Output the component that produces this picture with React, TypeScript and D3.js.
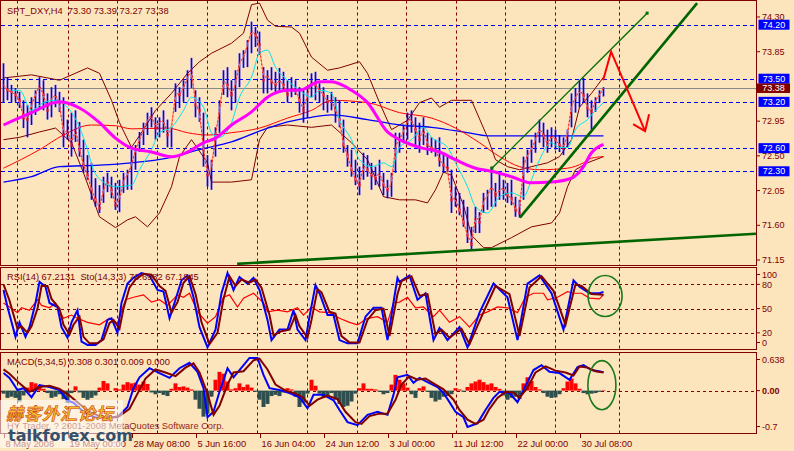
import React from "react";
import * as d3 from "d3";

type P = [number, number];

// ---------- price bars (H4), bar index 0..150 ----------
const highs = [
  73.70, 73.52, 73.42, 73.38, 73.33, 73.22, 73.16, 73.26, 73.35, 73.52,
  73.48, 73.31, 73.39, 73.42, 73.33, 73.26, 72.97, 73.06, 73.09, 72.94,
  72.71, 72.51, 72.41, 72.21, 72.12, 72.23, 72.28, 72.23, 72.15, 72.19,
  72.28, 72.32, 72.58, 72.64, 72.81, 72.93, 73.06, 73.13, 73.00, 73.00,
  73.09, 72.97, 72.87, 73.44, 73.39, 73.48, 73.61, 73.77, 73.35, 73.26,
  73.06, 72.51, 72.45, 72.87, 73.22, 73.61, 73.65, 73.48, 73.61, 73.83,
  73.87, 74.00, 74.24, 74.17, 74.11, 73.65, 73.61, 73.65, 73.59, 73.64,
  73.59, 73.48, 73.52, 73.48, 73.39, 73.35, 73.39, 73.57, 73.59, 73.44,
  73.39, 73.29, 73.33, 73.26, 73.22, 72.97, 72.64, 72.58, 72.45, 72.36,
  72.54, 72.51, 72.41, 72.36, 72.45, 72.28, 72.19, 72.28, 72.80, 72.80,
  72.90, 73.06, 73.09, 73.00, 72.93, 73.00, 72.80, 72.74, 72.71, 72.74,
  72.54, 72.51, 72.32, 72.10, 72.02, 71.93, 71.84, 71.58, 71.84, 71.77,
  72.02, 72.06, 72.36, 72.15, 72.28, 72.19, 72.15, 72.19, 71.97, 71.93,
  72.49, 72.58, 72.71, 72.80, 72.97, 72.93, 72.84, 72.87, 72.84, 72.77,
  72.74, 72.84, 73.31, 73.38, 73.48, 73.51, 73.31, 73.22, 73.26, 73.35, 73.39,
];
const lows = [
  73.19, 73.22, 73.19, 73.20, 73.12, 72.86, 72.74, 72.90, 73.03, 73.12,
  73.09, 72.97, 73.00, 73.13, 73.07, 72.61, 72.71, 72.49, 72.68, 72.49,
  72.28, 72.19, 71.93, 71.84, 71.76, 71.89, 72.03, 71.95, 71.80, 71.77,
  72.02, 72.06, 72.06, 72.32, 72.55, 72.64, 72.77, 72.87, 72.71, 72.74,
  72.80, 72.61, 72.61, 73.07, 73.12, 73.20, 73.26, 73.38, 73.00, 72.94,
  72.36, 72.10, 72.06, 72.49, 72.80, 73.29, 73.26, 73.09, 73.19, 73.39,
  73.64, 73.65, 73.83, 73.91, 73.81, 73.31, 73.31, 73.35, 73.31, 73.33,
  73.35, 73.19, 73.26, 73.29, 73.06, 72.93, 72.99, 73.26, 73.22, 73.19,
  73.09, 73.06, 73.09, 72.93, 72.87, 72.54, 72.36, 72.23, 72.12, 71.99,
  72.19, 72.23, 72.06, 72.12, 72.10, 71.99, 71.95, 71.97, 72.28, 72.54,
  72.67, 72.71, 72.80, 72.61, 72.54, 72.64, 72.51, 72.54, 72.49, 72.36,
  72.28, 72.29, 71.76, 71.84, 71.73, 71.58, 71.37, 71.28, 71.50, 71.50,
  71.76, 71.80, 71.84, 71.84, 71.93, 71.93, 71.89, 71.86, 71.71, 71.70,
  71.93, 72.28, 72.41, 72.54, 72.67, 72.61, 72.54, 72.61, 72.58, 72.55,
  72.51, 72.61, 72.87, 73.06, 73.13, 73.19, 73.00, 72.84, 73.07, 73.19, 73.27,
];
const closes = [
  73.42, 73.35, 73.33, 73.29, 73.22, 72.99, 72.97, 73.16, 73.29, 73.42,
  73.29, 73.09, 73.25, 73.29, 73.19, 72.77, 72.84, 72.64, 72.86, 72.58,
  72.38, 72.25, 72.06, 71.93, 71.82, 72.06, 72.19, 72.06, 71.86, 71.93,
  72.19, 72.25, 72.38, 72.58, 72.71, 72.84, 72.97, 73.03, 72.86, 72.94,
  72.97, 72.77, 72.84, 73.33, 73.29, 73.38, 73.51, 73.64, 73.16, 73.09,
  72.58, 72.25, 72.32, 72.77, 73.09, 73.48, 73.42, 73.29, 73.42, 73.72,
  73.77, 73.94, 74.13, 74.07, 73.94, 73.48, 73.55, 73.46, 73.42, 73.48,
  73.42, 73.29, 73.38, 73.35, 73.22, 73.09, 73.29, 73.48, 73.42, 73.35,
  73.29, 73.20, 73.22, 73.09, 72.97, 72.64, 72.51, 72.32, 72.19, 72.12,
  72.38, 72.32, 72.25, 72.21, 72.29, 72.12, 72.06, 72.12, 72.64, 72.71,
  72.81, 72.97, 72.97, 72.84, 72.71, 72.86, 72.64, 72.60, 72.58, 72.45,
  72.38, 72.34, 71.93, 71.95, 71.80, 71.64, 71.47, 71.35, 71.73, 71.64,
  71.93, 71.97, 72.12, 71.99, 72.06, 72.08, 71.99, 71.95, 71.80, 71.76,
  72.38, 72.51, 72.58, 72.71, 72.86, 72.77, 72.64, 72.77, 72.71, 72.64,
  72.60, 72.77, 73.16, 73.25, 73.35, 73.29, 73.12, 73.07, 73.22, 73.29, 73.38,
];

// ---------- main-panel indicator lines [barIndex, price] ----------
const magentaMA: P[] = [[0,72.90],[7,73.06],[14,73.20],[19,73.12],[24,72.93],[28,72.73],[32,72.60],[37,72.55],[42,72.49],[46,72.55],[50,72.67],[53,72.73],[57,72.90],[62,73.07],[66,73.26],[71,73.35],[74,73.35],[79,73.46],[82,73.46],[87,73.35],[91,73.19],[96,72.81],[99,72.71],[104,72.61],[109,72.55],[113,72.45],[118,72.34],[122,72.30],[127,72.23],[132,72.15],[137,72.16],[142,72.21],[145,72.36],[147,72.54],[150,72.65]];
const blueMA: P[] = [[0,72.16],[7,72.23],[14,72.36],[24,72.38],[32,72.41],[41,72.47],[49,72.58],[57,72.68],[65,72.84],[71,72.94],[77,73.00],[82,73.03],[91,72.97],[99,72.90],[107,72.87],[116,72.80],[121,72.76],[132,72.76],[150,72.76]];
const redMA: P[] = [[0,72.34],[9,72.58],[15,72.77],[22,72.90],[28,72.89],[32,72.85],[41,72.86],[46,72.80],[51,72.77],[57,72.80],[64,72.86],[71,72.99],[77,73.09],[82,73.22],[91,73.19],[99,73.06],[107,72.99],[113,72.86],[119,72.67],[124,72.49],[129,72.36],[134,72.32],[141,72.34],[145,72.41],[147,72.47],[150,72.49]];
const bbUpper: P[] = [[0,73.51],[7,73.55],[14,73.48],[21,73.64],[24,73.57],[27,73.22],[29,72.93],[32,72.61],[35,72.84],[38,73.09],[42,73.31],[46,73.57],[49,73.72],[52,73.83],[57,73.96],[60,74.09],[62,74.46],[64,74.48],[66,74.26],[68,74.18],[72,74.17],[74,74.09],[77,73.78],[81,73.61],[84,73.64],[89,73.72],[91,73.57],[94,73.19],[97,72.84],[101,72.96],[104,73.19],[107,73.25],[109,73.13],[112,73.22],[117,73.22],[121,72.74],[123,72.45],[126,72.36],[129,72.32],[132,72.36],[136,72.41],[139,72.49],[142,72.71],[144,73.13],[147,73.31],[150,73.52]];
const bbLower: P[] = [[0,72.71],[4,72.74],[9,72.81],[13,72.86],[17,72.67],[20,72.28],[24,71.71],[28,71.57],[31,71.67],[33,71.71],[36,71.58],[39,71.76],[42,72.10],[44,72.49],[47,72.71],[51,72.41],[52,72.16],[57,72.16],[62,72.19],[64,72.71],[66,72.87],[71,72.90],[77,72.87],[82,72.90],[87,72.67],[91,72.45],[95,71.97],[99,71.93],[103,71.93],[106,71.89],[108,72.06],[110,72.29],[112,72.25],[115,71.86],[117,71.47],[120,71.31],[122,71.31],[127,71.44],[132,71.58],[137,71.63],[139,71.76],[141,72.10],[143,72.32],[146,72.41],[150,72.49]];
const cyanMA: P[] = [[2,73.35],[4,73.35],[7,73.09],[10,73.19],[13,73.22],[16,73.13],[19,72.87],[21,72.58],[22.5,72.32],[25,72.16],[28,72.10],[32,72.12],[34,72.32],[37,72.58],[39,72.80],[42,72.87],[45,73.09],[47,73.26],[50,73.13],[52,72.80],[54,72.74],[57,72.93],[59,73.26],[62,73.52],[64,73.83],[66,73.87],[68,73.65],[71,73.48],[74,73.35],[77,73.26],[79,73.35],[82,73.31],[84,72.97],[87,72.71],[89,72.45],[92,72.36],[95,72.41],[97,72.36],[99,72.61],[102,72.71],[105,72.87],[107,72.74],[111,72.61],[113,72.41],[116,72.10],[118,71.84],[121,71.76],[124,71.97],[127,72.02],[130,71.97],[132,72.19],[134,72.45],[137,72.67],[139,72.61],[141,72.61],[143,72.84],[146,72.97],[148,73.09],[150,73.19]];

// ---------- drawn objects ----------
const trendBottom: P[] = [[58.4, 71.10], [188.1, 71.49]];
const channelLower: P[] = [[129.1, 71.70], [173.4, 74.48]];
const channelUpper: P[] = [[122.1, 72.34], [160.9, 74.35]];
const arrowPath: P[] = [[149.9, 73.48], [151.9, 73.85], [160.4, 72.82]];
const arrowHead: P[] = [[157.4, 72.91], [160.4, 72.82], [161.4, 73.04]];

const priceTicks = [74.30, 73.85, 73.40, 72.95, 72.50, 72.05, 71.60, 71.15];
const levelLines = [74.20, 73.50, 73.20, 72.60, 72.30];
const lastPrice = 73.38;

// ---------- RSI / Stochastic ----------
const rsi: P[] = [[0,57],[1.5,52],[3.5,45],[4.5,51],[6.5,48],[8.5,61],[9.5,54],[11.5,51],[13,57],[15,38],[17,42],[18.5,38],[21,33],[24,30],[26.5,38],[28.5,32],[30.5,61],[32.5,64],[35,67],[37,58],[39,61],[41,54],[43.5,67],[45,64],[46.5,69],[48.5,46],[51,32],[53,40],[55,64],[56.5,67],[58.5,52],[60,63],[62.5,69],[65,57],[66,46],[68.5,48],[71,46],[73.5,51],[75,42],[77,52],[79,46],[81.5,45],[84,38],[86.5,33],[88.5,30],[91,38],[93.5,40],[96,33],[97.5,57],[99,58],[101,64],[103,51],[105,52],[107.5,40],[109,48],[111.5,33],[114,40],[116.5,27],[119,42],[121,46],[123.5,52],[126,51],[128.5,45],[130.5,64],[132.5,69],[135,69],[136,61],[138.5,64],[141,71],[142.5,69],[144.5,69],[146.5,63],[149,62],[150,67.2]];
const stochMain: P[] = [[0,73],[1,52],[3,15],[4,33],[5.5,15],[6.5,27],[8,57],[9,83],[10.5,77],[11.5,57],[13.5,52],[14.5,27],[16,14],[17,33],[18.5,48],[19.5,9],[21,5],[23,5],[24.5,11],[26,36],[27,38],[28.5,20],[29.5,57],[31,81],[32.5,88],[34.5,94],[36.5,91],[38.5,73],[40,71],[41.5,38],[43,61],[44.5,85],[46,91],[47.5,64],[49,27],[51,2],[53,24],[54.5,69],[56,94],[57.5,73],[59,89],[61,81],[62.5,88],[64,73],[66,36],[67,11],[69,24],[71,24],[72.5,48],[73.5,24],[75.5,11],[76.5,40],[78,79],[79,69],[81,42],[82.5,42],[84,11],[86,7],[88.5,7],[90.5,40],[92.5,51],[94.5,51],[96,11],[98,73],[98.5,88],[99,83],[101.5,91],[103.5,61],[105.5,69],[107.5,11],[109,26],[111,11],[114,27],[116,2],[119,45],[122.5,81],[126,64],[128.5,11],[131,81],[134,91],[137,69],[140,24],[142.5,85],[144,77],[146.5,69],[149,69],[150,70.7]];
const stochSignal: P[] = [[0,80],[1.5,60],[3.5,25],[4.5,28],[6,20],[7,28],[8.5,50],[9.5,78],[11,78],[12,62],[14,50],[15,30],[16.5,18],[17.5,30],[19,40],[20,15],[21.5,7],[23.5,7],[25,12],[26.5,32],[27.5,36],[29,25],[30,50],[31.5,76],[33,86],[35,93],[37,92],[39,78],[40.5,72],[42,45],[43.5,58],[45,82],[46.5,90],[48,68],[49.5,33],[51.5,6],[53.5,20],[55,62],[56.5,90],[58,78],[59.5,86],[61.5,82],[63,86],[64.5,76],[66.5,42],[67.5,17],[69.5,22],[71.5,24],[73,42],[74,28],[76,14],[77,36],[78.5,74],[79.5,70],[81.5,46],[83,44],[84.5,16],[86.5,8],[89,8],[91,36],[93,48],[95,50],[96.5,16],[98.5,68],[99.5,84],[102,90],[104,66],[106,68],[108,18],[109.5,24],[111.5,14],[114.5,25],[116.5,6],[119.5,40],[123,78],[126.5,68],[129,16],[131.5,76],[134.5,90],[137.5,72],[140.5,30],[143,80],[144.5,78],[147,68],[150,67.2]];
const rsiLevels = [80, 50, 20];
const rsiTicks = [100, 80, 50, 20, 0];

// ---------- MACD ----------
const macdMain: P[] = [[0,0.29],[1.5,0.21],[3.5,0.01],[5,0.04],[7,-0.11],[9,0.09],[11.5,0.06],[14,0.01],[16,-0.16],[17.5,-0.20],[19,-0.29],[21,-0.40],[23.5,-0.45],[26,-0.44],[28.5,-0.44],[31,-0.27],[32.5,0.04],[34,0.22],[36.5,0.37],[39,0.29],[41.5,0.21],[44,0.37],[46.5,0.46],[48.5,0.31],[50,0.04],[51,-0.44],[52.5,-0.35],[54,-0.02],[56,0.37],[57.5,0.22],[59,0.34],[61.5,0.54],[63.5,0.54],[65,0.26],[66.5,0.04],[69,0.01],[71.5,-0.04],[74,-0.11],[76,-0.29],[77.5,-0.07],[80,-0.07],[82.5,-0.16],[84,-0.32],[86,-0.52],[88.5,-0.57],[91,-0.40],[93.5,-0.35],[96,-0.40],[97.5,-0.07],[98.5,0.22],[101,0.26],[102.5,0.13],[104,0.21],[106,0.14],[108.5,0.06],[110,-0.04],[111.5,-0.19],[113,-0.35],[115,-0.44],[116,-0.60],[118.5,-0.54],[120.5,-0.32],[122.5,-0.12],[124,-0.02],[126.5,-0.04],[128.5,-0.19],[131,0.14],[132.5,0.34],[134.5,0.42],[136.5,0.31],[139,0.29],[141.5,0.18],[143.5,0.39],[145,0.42],[147,0.34],[149.5,0.31],[150,0.308]];
const macdSignal: P[] = [[0,0.35],[1.5,0.28],[4,0.12],[6.5,-0.02],[9,0.06],[11.5,0.08],[14,0.03],[16.5,-0.08],[19,-0.22],[21.5,-0.35],[24,-0.42],[26.5,-0.45],[29,-0.42],[31.5,-0.30],[33.5,-0.05],[35.5,0.20],[38,0.35],[40.5,0.30],[43,0.24],[45.5,0.38],[47.5,0.45],[49,0.30],[51,-0.05],[52.5,-0.40],[54,-0.25],[56,0.10],[57.5,0.30],[60,0.32],[62.5,0.50],[64,0.53],[66,0.35],[68,0.10],[70.5,0.00],[73,-0.05],[75,-0.12],[76.5,-0.25],[78.5,-0.15],[81,-0.08],[83.5,-0.14],[85.5,-0.35],[88,-0.52],[89.5,-0.55],[91.5,-0.42],[94,-0.38],[96,-0.38],[98,-0.15],[99.5,0.10],[101.5,0.24],[103.5,0.18],[105.5,0.20],[107.5,0.12],[110,0.02],[112.5,-0.15],[114,-0.32],[116,-0.48],[118,-0.55],[120,-0.48],[121.5,-0.30],[123.5,-0.12],[125.5,-0.02],[127.5,-0.03],[129,-0.12],[131,0.05],[133,0.30],[135.5,0.40],[138,0.33],[140.5,0.30],[142.5,0.25],[144,0.40],[146,0.38],[148,0.32],[150,0.301]];
const macdHist = [
  -0.05, -0.12, -0.10, -0.12, -0.18, -0.08, 0.05, 0.14, 0.12, 0.08,
  0.03, -0.04, -0.12, -0.10, -0.06, -0.14, -0.20, -0.04, 0.07, -0.03,
  -0.12, -0.15, -0.12, -0.08, 0.05, 0.16, 0.12, 0.00, 0.04, 0.02,
  0.10, 0.14, 0.12, 0.13, 0.10, 0.15, 0.11, -0.03, -0.06, -0.04,
  -0.07, -0.09, 0.03, 0.12, 0.06, 0.07, 0.05, 0.02, -0.15, -0.30,
  -0.43, -0.38, -0.10, 0.18, 0.31, 0.28, 0.15, 0.02, 0.04, 0.12,
  0.06, 0.10, 0.05, -0.02, -0.15, -0.27, -0.22, -0.09, -0.07, -0.09,
  -0.03, 0.04, 0.02, -0.10, -0.27, -0.20, -0.05, 0.18, 0.08, -0.05,
  -0.12, -0.08, -0.04, -0.15, -0.22, -0.27, -0.25, -0.18, -0.05, 0.04,
  0.12, 0.03, 0.03, 0.02, -0.02, -0.06, -0.04, 0.10, 0.26, 0.18,
  0.12, 0.05, -0.06, -0.12, 0.04, 0.07, -0.02, -0.12, -0.18, -0.15,
  -0.10, -0.09, -0.06, 0.04, 0.02, -0.02, 0.06, 0.12, 0.15, 0.18,
  0.14, 0.10, 0.12, 0.06, 0.03, -0.08, -0.15, -0.12, -0.10, -0.14,
  0.12, 0.22, 0.16, 0.06, 0.02, -0.04, -0.10, -0.12, -0.11, -0.06,
  0.04, 0.15, 0.20, 0.12, 0.03, -0.04, -0.06, -0.05, -0.04, -0.02, 0.009,
];
const macdTicks = [0.638, 0, -0.7];
const macdTickLabels = ["0.638", "0.00", "-0.7"];

// ---------- time axis ----------
const gridBars = [3.4, 16.1, 28.4, 38.4, 50.9, 63.4, 75.9, 88.4, 100.6, 113.1, 125.4, 137.9, 153.9];
const dateBars = [0, 16, 32, 48, 64, 80, 96, 112, 128, 144];
const dateLabels = ["8 May 2008", "19 May 00:00", "28 May 08:00", "5 Jun 16:00", "16 Jun 04:00", "24 Jun 12:00", "3 Jul 00:00", "11 Jul 12:00", "22 Jul 00:00", "30 Jul 08:00"];

// ellipse annotations: [centerBar, centerValue, radiusBars, radiusValue]
const rsiEllipse = [150.4, 65.6, 4.25, 25.4];
const macdEllipse = [149.6, 0.09, 3.5, 0.405];

const BG = "#FCE4BD";
const MAROON = "#800000";
const FONT = "'Liberation Sans', Arial, sans-serif";

export default function App() {
  const x = d3.scaleLinear().domain([0, 150]).range([3.5, 603.5]);
  const yP = d3.scaleLinear().domain([71.15, 74.3]).range([260, 17]);
  const yR = d3.scaleLinear().domain([0, 100]).range([349, 268.2]);
  const yM = d3.scaleLinear().domain([-0.7, 0.638]).range([433, 352]);

  const mk = (ys: d3.ScaleLinear<number, number>, curve: d3.CurveFactory = d3.curveLinear) =>
    d3.line<P>().x((d) => x(d[0])).y((d) => ys(d[1])).curve(curve);
  const lineP = mk(yP);
  const lineSmooth = mk(yP, d3.curveMonotoneX);
  const lineR = mk(yR);
  const lineM = mk(yM);

  const closePts: P[] = closes.map((c, i) => [i, c]);

  const main = { l: 0.5, t: 0.5, r: 756.5, b: 265.5 };
  const rsiB = { l: 0.5, t: 267.5, r: 756.5, b: 349.5 };
  const macdB = { l: 0.5, t: 352.5, r: 756.5, b: 433.5 };

  const grid = (b: { t: number; b: number }, key: string) =>
    gridBars.map((g, i) => (
      <line key={key + i} x1={Math.round(x(g)) + 0.5} x2={Math.round(x(g)) + 0.5} y1={b.t} y2={b.b}
        stroke={MAROON} strokeWidth={1} strokeDasharray="3,3" />
    ));

  const clampY = (y: number, b: { t: number; b: number }) => Math.max(b.t + 7, Math.min(b.b - 7, y));

  return (
    <svg width={794} height={451} style={{ position: "absolute", left: 0, top: 0, background: BG }}
      fontFamily={FONT}>
      <defs>
        <clipPath id="cMain"><rect x={1} y={1} width={755} height={264} /></clipPath>
        <clipPath id="cRsi"><rect x={1} y={268} width={755} height={81} /></clipPath>
        <clipPath id="cMacd"><rect x={1} y={353} width={755} height={80} /></clipPath>
      </defs>
      <rect x={0} y={0} width={794} height={451} fill={BG} />

      {/* ================= MAIN PANEL ================= */}
      <g>
        {grid(main, "gm")}
        {levelLines.map((v, i) => (
          <line key={"lv" + i} x1={1} x2={756} y1={Math.round(yP(v)) + 0.5} y2={Math.round(yP(v)) + 0.5}
            stroke="#0000FF" strokeDasharray="4,3" />
        ))}
        <line x1={1} x2={756} y1={Math.round(yP(lastPrice)) + 0.5} y2={Math.round(yP(lastPrice)) + 0.5} stroke="#8a8a8a" />
        <g clipPath="url(#cMain)" fill="none">
          <path d={lineP(bbUpper) || ""} stroke={MAROON} strokeWidth={1} />
          <path d={lineP(bbLower) || ""} stroke={MAROON} strokeWidth={1} />
          <path d={lineSmooth(blueMA) || ""} stroke="#0000FF" strokeWidth={1.3} />
          <path d={lineSmooth(redMA) || ""} stroke="#FF0000" strokeWidth={1} />
          {highs.map((h, i) => (
            <line key={"b" + i} x1={x(i)} x2={x(i)} y1={yP(h)} y2={yP(lows[i])} stroke="#0000FF" strokeWidth={1.7} />
          ))}
          {closes.map((c, i) =>
            i > 0 && c < closes[i - 1] ? (
              <rect key={"rb" + i} x={x(i) - 1} y={yP(c) - 1.5} width={2} height={3} fill="#FF0000" />
            ) : null
          )}
          <path d={mk(yP, d3.curveBasis)(closePts) || ""} stroke="#FF8060" strokeWidth={1} />
          <path d={lineP(closePts) || ""} stroke="#FF0000" strokeWidth={1} strokeDasharray="2,2" opacity={0.8} />
          <path d={lineSmooth(cyanMA) || ""} stroke="#00E5EE" strokeWidth={1} />
          <path d={lineSmooth(magentaMA) || ""} stroke="#FF00FF" strokeWidth={3} />

          <path d={lineP(trendBottom) || ""} stroke="#006400" strokeWidth={2.6} />
          <path d={lineP(channelLower) || ""} stroke="#006400" strokeWidth={2.6} />
          <path d={lineP(channelUpper) || ""} stroke="#007000" strokeWidth={1.4} />
          {[channelUpper[0], channelUpper[1]].map((p, i) => (
            <rect key={"cu" + i} x={x(p[0]) - 1.5} y={yP(p[1]) - 1.5} width={3} height={3} fill="#007000" />
          ))}
          <path d={lineP(arrowPath) || ""} stroke="#FF0000" strokeWidth={2} />
          <path d={lineP(arrowHead) || ""} stroke="#FF0000" strokeWidth={2} />
        </g>
        <rect x={main.l} y={main.t} width={main.r - main.l} height={main.b - main.t} fill="none" stroke={MAROON} />
        <text x={7} y={14} fontSize={9.3} fill={MAROON} style={{ whiteSpace: "pre" }}>
          {"SPT_DXY,H4  73.30 73.39 73.27 73.38"}
        </text>
        {/* price axis */}
        {priceTicks.map((v, i) => (
          <g key={"pt" + i}>
            <line x1={756} x2={760} y1={yP(v)} y2={yP(v)} stroke={MAROON} />
            <text x={762} y={yP(v)} dy="0.35em" fontSize={9} fill={MAROON}>{v.toFixed(2)}</text>
          </g>
        ))}
        {levelLines.map((v, i) => (
          <g key={"lb" + i}>
            <rect x={758.5} y={yP(v) - 5} width={31} height={10} fill="#0000FF" />
            <text x={774} y={yP(v)} dy="0.35em" fontSize={9} fill="#FFFFFF" textAnchor="middle">{v.toFixed(2)}</text>
          </g>
        ))}
        <rect x={757} y={yP(lastPrice) - 4.5} width={33} height={9.5} fill={MAROON} />
        <text x={773.5} y={yP(lastPrice)} dy="0.35em" fontSize={9} fill="#FFFFFF" textAnchor="middle">{lastPrice.toFixed(2)}</text>
      </g>

      {/* ================= RSI / STOCH PANEL ================= */}
      <g>
        {grid(rsiB, "gr")}
        {rsiLevels.map((v, i) => (
          <line key={"rl" + i} x1={1} x2={756} y1={Math.round(yR(v)) + 0.5} y2={Math.round(yR(v)) + 0.5}
            stroke={MAROON} strokeDasharray="3,3" />
        ))}
        <g clipPath="url(#cRsi)" fill="none">
          <path d={lineR(rsi) || ""} stroke="#FF0000" strokeWidth={1.2} />
          <path d={lineR(stochMain) || ""} stroke="#0000FF" strokeWidth={2} />
          <path d={lineR(stochSignal) || ""} stroke={MAROON} strokeWidth={2} />
        </g>
        <ellipse cx={x(rsiEllipse[0])} cy={yR(rsiEllipse[1])} rx={x(rsiEllipse[2]) - x(0)}
          ry={yR(0) - yR(rsiEllipse[3])} fill="none" stroke="#1B7A1B" strokeWidth={1.6} />
        <rect x={rsiB.l} y={rsiB.t} width={rsiB.r - rsiB.l} height={rsiB.b - rsiB.t} fill="none" stroke={MAROON} />
        <text x={7} y={280} fontSize={9.3} fill={MAROON} style={{ whiteSpace: "pre" }}>
          {"RSI(14) 67.2131  Sto(14,3,3) 70.6982 67.1845"}
        </text>
        {rsiTicks.map((v, i) => (
          <g key={"rt" + i}>
            <line x1={756} x2={760} y1={clampY(yR(v), rsiB)} y2={clampY(yR(v), rsiB)} stroke={MAROON} />
            <text x={762} y={clampY(yR(v), rsiB)} dy="0.35em" fontSize={9} fill={MAROON}>{String(v)}</text>
          </g>
        ))}
      </g>

      {/* ================= MACD PANEL ================= */}
      <g>
        {grid(macdB, "gd")}
        <line x1={1} x2={756} y1={Math.round(yM(0)) + 0.5} y2={Math.round(yM(0)) + 0.5} stroke={MAROON} strokeDasharray="3,3" />
        <g clipPath="url(#cMacd)">
          {macdHist.map((v, i) => (
            <rect key={"h" + i} x={x(i) - 2} width={4} y={Math.min(yM(0), yM(v))}
              height={Math.abs(yM(v) - yM(0))} fill={v >= 0 ? "#FF0000" : "#2F4F4F"} />
          ))}
          <path d={lineM(macdMain) || ""} stroke="#0000FF" strokeWidth={2} fill="none" />
          <path d={lineM(macdSignal) || ""} stroke={MAROON} strokeWidth={2} fill="none" />
        </g>
        <ellipse cx={x(macdEllipse[0])} cy={yM(macdEllipse[1])} rx={x(macdEllipse[2]) - x(0)}
          ry={yM(0) - yM(macdEllipse[3])} fill="none" stroke="#1B7A1B" strokeWidth={1.6} />
        <rect x={macdB.l} y={macdB.t} width={macdB.r - macdB.l} height={macdB.b - macdB.t} fill="none" stroke={MAROON} />
        <text x={7} y={365} fontSize={9.3} fill={MAROON} style={{ whiteSpace: "pre" }}>
          {"MACD(5,34,5) 0.308 0.301 0.009 0.000"}
        </text>
        <text x={7} y={429} fontSize={9.3} fill={MAROON} opacity={0.85}>
          {"HY Trader, ? 2001-2008 MetaQuotes Software Corp."}
        </text>
        {macdTicks.map((v, i) => (
          <g key={"mt" + i}>
            <line x1={756} x2={760} y1={clampY(yM(v), macdB)} y2={clampY(yM(v), macdB)} stroke={MAROON} />
            <text x={762} y={clampY(yM(v), macdB)} dy="0.35em" fontSize={9} fill={MAROON}
              fontWeight={v === 0 ? "bold" : "normal"}>{macdTickLabels[i]}</text>
          </g>
        ))}
      </g>

      {/* ================= TIME AXIS ================= */}
      {dateBars.map((b, i) => (
        <g key={"dt" + i}>
          <line x1={Math.round(x(b)) + 0.5} x2={Math.round(x(b)) + 0.5} y1={434} y2={438} stroke={MAROON} />
          <text x={x(b) + 2} y={447} fontSize={9.3} fill={MAROON}>{dateLabels[i]}</text>
        </g>
      ))}

      {/* ================= WATERMARK ================= */}
      <rect x={0} y={400} width={123} height={48} fill="#FFFFFF" opacity={0.55} />
      <text x={6} y={420} fontSize={17} fontFamily="'Noto Sans CJK SC', sans-serif" fontWeight="bold"
        fill="#F2C230" stroke="#D04010" strokeWidth={0.6} fontStyle="italic" letterSpacing={1}>
        赫客外汇论坛
      </text>
      <text x={8} y={441} fontSize={16} fontWeight="bold" fill="#34506C" fontFamily="'DejaVu Sans', sans-serif">
        talkforex.com
      </text>
    </svg>
  );
}
